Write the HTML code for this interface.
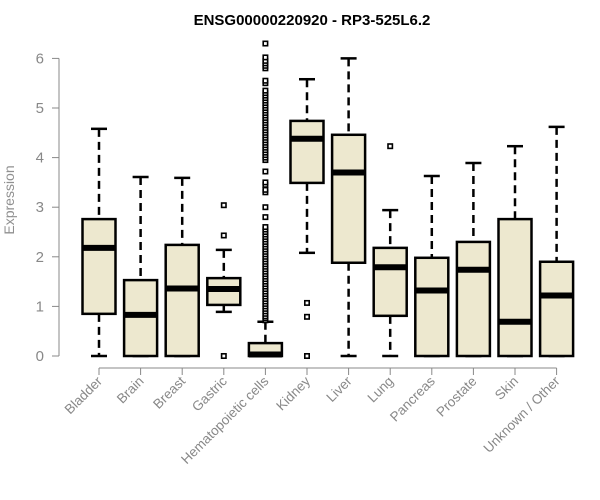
<!DOCTYPE html>
<html><head><meta charset="utf-8"><style>
body{margin:0;background:#fff;}
svg{display:block;font-family:"Liberation Sans",Arial,sans-serif;}
</style></head><body>
<svg id="chart" width="600" height="500">
<text x="312" y="25" text-anchor="middle" font-weight="bold" font-size="15">ENSG00000220920 - RP3-525L6.2</text>
<text transform="translate(14,200) rotate(-90)" text-anchor="middle" font-size="14" fill="#909090">Expression</text>
<g id="yaxis"></g>
<g id="xaxis"></g>
<g id="boxes"></g>
</svg>
<script>
const categories=["Bladder","Brain","Breast","Gastric","Hematopoietic cells","Kidney","Liver","Lung","Pancreas","Prostate","Skin","Unknown / Other"];
const lowWhisker=[0,0,0,0.89,0,2.08,0,0,0,0,0,0];
const q1=[0.85,0,0,1.03,0,3.49,1.88,0.81,0,0,0,0];
const medians=[2.18,0.83,1.36,1.35,0.03,4.38,3.7,1.79,1.32,1.74,0.69,1.22];
const q3=[2.76,1.53,2.24,1.57,0.26,4.74,4.46,2.18,1.98,2.3,2.76,1.9];
const highWhisker=[4.58,3.61,3.59,2.14,0.69,5.58,6.0,2.94,3.63,3.89,4.23,4.62];
const outliers=[[],[],[],[3.04,2.43,0],[0.72,0.76,0.8,0.85,0.9,0.95,1.0,1.05,1.1,1.15,1.2,1.25,1.3,1.35,1.4,1.45,1.5,1.55,1.6,1.65,1.7,1.75,1.8,1.85,1.9,1.95,2.0,2.05,2.1,2.15,2.2,2.25,2.3,2.35,2.4,2.45,2.5,2.55,2.6,2.8,3.0,3.3,3.35,3.45,3.5,3.72,3.95,4.0,4.05,4.1,4.15,4.2,4.25,4.3,4.35,4.4,4.45,4.5,4.55,4.6,4.65,4.7,4.75,4.8,4.85,4.9,4.95,5.0,5.05,5.1,5.15,5.2,5.25,5.3,5.35,5.5,5.55,5.8,5.85,5.9,5.95,6.02,6.3],[1.07,0.79,0],[],[4.23],[],[],[],[]];
const yTicks=[0,1,2,3,4,5,6];
const NS="http://www.w3.org/2000/svg";
const y=v=>356-v*49.6;
const x=i=>99+i*41.6;
function el(tag,attrs,parent){const e=document.createElementNS(NS,tag);for(const k in attrs)e.setAttribute(k,attrs[k]);parent.appendChild(e);return e;}
const ya=document.getElementById('yaxis'),xa=document.getElementById('xaxis'),bx=document.getElementById('boxes');
el('line',{x1:59,x2:59,y1:y(0),y2:y(6),stroke:'#888'},ya);
yTicks.forEach(t=>{
  const l=el('line',{x1:52,x2:59,y1:y(t),y2:y(t),stroke:'#888'},ya);
  
  
  const tx=el('text',{x:44,y:y(t)+5,'text-anchor':'end','font-size':15,fill:'#888'},ya);
  tx.textContent=t;
  
  
});
el('line',{x1:x(0),x2:x(categories.length-1),y1:368,y2:368,stroke:'#888'},xa);
categories.forEach((c,i)=>{
  const cx=x(i);
  el('line',{x1:cx,x2:cx,y1:368,y2:375,stroke:'#888'},xa);
  const t=el('text',{transform:`translate(${cx+4},${382}) rotate(-45)`,'text-anchor':'end','font-size':13.5,fill:'#888'},xa);
  t.textContent=c;
  
  
  const g=el('g',{},bx);
  
  
  const hw=16.5;
  el('line',{x1:cx,x2:cx,y1:y(highWhisker[i]),y2:y(q3[i]),stroke:'#000','stroke-width':2.5,'stroke-dasharray':'8,5'},g);
  el('line',{x1:cx,x2:cx,y1:y(q1[i]),y2:y(lowWhisker[i]),stroke:'#000','stroke-width':2.5,'stroke-dasharray':'8,5'},g);
  el('line',{x1:cx-8,x2:cx+8,y1:y(highWhisker[i]),y2:y(highWhisker[i]),stroke:'#000','stroke-width':2.5},g);
  el('line',{x1:cx-8,x2:cx+8,y1:y(lowWhisker[i]),y2:y(lowWhisker[i]),stroke:'#000','stroke-width':2.5},g);
  el('rect',{x:cx-hw,y:y(q3[i]),width:2*hw,height:Math.max(0,y(q1[i])-y(q3[i])),fill:'#ede8cf',stroke:'#000','stroke-width':2.5},g);
  el('line',{x1:cx-hw,x2:cx+hw,y1:y(medians[i]),y2:y(medians[i]),stroke:'#000','stroke-width':6},g);
  outliers[i].forEach(v=>{
    const p=el('rect',{x:cx-2.2,y:y(v)-2.2,width:4.4,height:4.4,fill:'#fff',stroke:'#000','stroke-width':1.6},g);
    
    
  });
});
</script>
</body></html>
